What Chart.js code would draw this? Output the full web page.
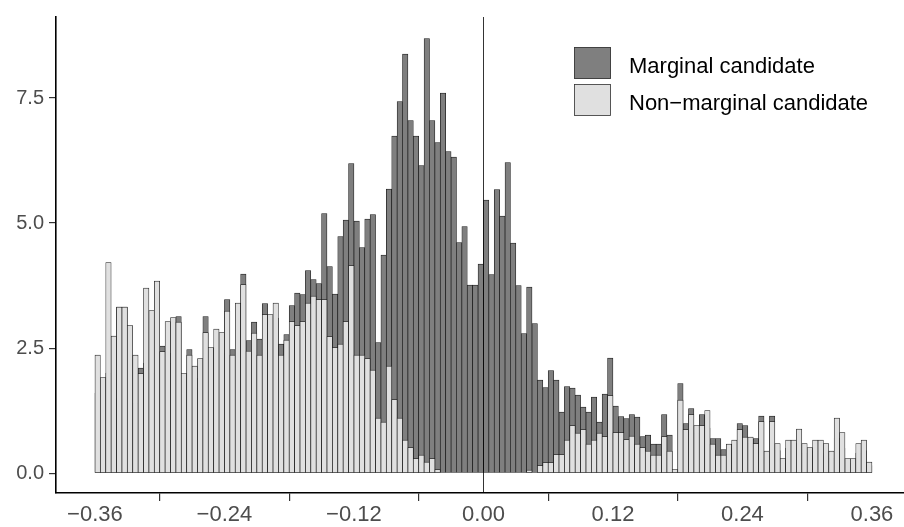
<!DOCTYPE html>
<html>
<head>
<meta charset="utf-8">
<script src="https://cdn.jsdelivr.net/npm/chart.js@4.4.1/dist/chart.umd.min.js"></script>
<style>
  html, body { margin: 0; padding: 0; background: #fff; }
  #wrap { width: 904px; height: 527px; }
</style>
</head>
<body>
<div id="wrap"><canvas id="c-hist" width="904" height="527"></canvas></div>
<script>
// histogram bins: 144 bins of width 0.005 from -0.36 to 0.36
var binStart = -0.36;
var binWidth = 0.005;

var marginal = [1.6,1.2,2.0,1.5,3.32,3.32,1.8,1.4,2.10,2.2,2.0,2.6,2.54,2.2,2.4,3.13,1.5,2.47,1.7,1.9,
  3.13,2.0,2.3,2.4,3.47,2.47,2.9,3.98,2.65,3.02,2.68,3.39,2.8,3.1,2.58,2.77,3.35,3.60,3.57,4.05,
  3.87,3.79,5.19,4.13,3.58,4.73,5.06,6.19,5.04,4.51,5.08,5.17,2.61,4.36,5.68,6.74,7.43,8.38,7.05,6.74,
  6.15,8.69,7.05,6.61,7.60,6.43,6.32,4.61,4.93,3.76,3.76,4.18,5.46,3.97,5.67,5.14,6.21,4.60,3.75,2.79,
  3.72,2.99,1.86,1.71,2.05,1.86,1.22,1.73,1.70,1.56,1.32,1.22,1.52,1.02,1.58,2.30,1.34,1.13,1.09,1.17,
  1.12,0.73,0.76,0.58,0.58,1.17,0.76,0.05,1.79,0.99,1.29,0.8,1.17,0.9,0.69,0.69,0.47,0.45,0.5,0.99,
  0.95,0.6,0.69,1.14,0.35,1.14,0.45,0.2,0.5,0.45,0.6,0.4,0.35,0.45,0.4,0.35,0.3,0.7,0.5,0.2,
  0.2,0.4,0.45,0.15];

var nonMarginal = [2.36,1.91,4.21,2.74,3.32,3.32,2.95,2.36,1.99,3.70,3.25,3.84,2.43,3.03,3.11,3.02,1.99,2.36,2.14,2.29,
  2.81,2.51,2.88,2.81,3.24,2.36,3.40,3.77,2.44,2.80,2.36,3.17,3.17,3.40,2.36,2.66,3.03,2.95,3.03,3.40,
  3.54,3.47,3.47,2.73,2.51,2.58,3.03,4.15,2.36,2.36,2.29,2.06,1.10,1.02,2.14,1.47,1.10,0.66,0.51,0.29,
  0.36,0.22,0.29,0.07,0,0,0,0,0,0,0,0,0,0,0,0,0,0,0,0,
  0.06,0,0.15,0.21,0.21,0.37,0.37,0.66,0.95,0.80,0.87,0.58,0.66,0.80,0.73,1.55,0.81,0.81,0.67,0.74,
  0.58,0.51,0.44,0.36,0.36,0.73,0.44,0.07,1.46,0.87,1.17,0.95,0.95,1.25,0.58,0.36,0.36,0.58,0.66,0.87,
  0.72,0.72,0.59,1.03,0.44,1.03,0.59,0.29,0.66,0.66,0.88,0.59,0.51,0.66,0.66,0.59,0.44,1.10,0.81,0.29,
  0.29,0.59,0.66,0.22];

var xTicks = [-0.36, -0.24, -0.12, 0, 0.12, 0.24, 0.36];
var yTicks = [0, 2.5, 5, 7.5];
var seriesNames = ['Marginal candidate', 'Non\u2212marginal candidate'];

var darkFill = '#7f7f7f';
var lightFill = '#e0e0e0';
var edge = '#1a1a1a';

function toPoints(arr) {
  return arr.map(function(v, i) { return {x: binStart + binWidth * (i + 0.5), y: v}; });
}

var vlinePlugin = {
  id: 'vline',
  afterDatasetsDraw: function(chart) {
    var ctx = chart.ctx, a = chart.chartArea;
    var px = Math.round(chart.scales.x.getPixelForValue(0)) + 0.5;
    ctx.save();
    ctx.strokeStyle = '#000';
    ctx.lineWidth = 0.8;
    ctx.beginPath();
    ctx.moveTo(px, a.top);
    ctx.lineTo(px, a.bottom);
    ctx.stroke();
    ctx.restore();
  }
};

var legendPlugin = {
  id: 'boxLegend',
  afterDraw: function(chart) {
    var ctx = chart.ctx;
    var fills = [darkFill, lightFill];
    ctx.save();
    for (var i = 0; i < 2; i++) {
      var top = 47 + i * 37;
      ctx.fillStyle = fills[i];
      ctx.fillRect(574, top, 37, 32);
      ctx.strokeStyle = '#333';
      ctx.lineWidth = 0.8;
      ctx.strokeRect(574.5, top + 0.5, 36, 31);
      ctx.fillStyle = '#000';
      ctx.font = '22px "Liberation Sans", Arial, sans-serif';
      ctx.textBaseline = 'alphabetic';
      ctx.fillText(seriesNames[i], 629, 73 + i * 37);
    }
    ctx.restore();
  }
};

new Chart(document.getElementById('c-hist'), {
  type: 'bar',
  data: {
    datasets: [
      {label: seriesNames[0], data: toPoints(marginal), order: 1, backgroundColor: darkFill,
       borderColor: edge, borderWidth: 0.7, borderSkipped: false},
      {label: seriesNames[1], data: toPoints(nonMarginal), order: 0, backgroundColor: lightFill,
       borderColor: edge, borderWidth: 0.7, borderSkipped: false}
    ]
  },
  options: {
    responsive: false,
    animation: false,
    devicePixelRatio: 1,
    grouped: false,
    barPercentage: 1,
    categoryPercentage: 1,
    layout: {padding: {top: 14, right: 0, left: 0, bottom: 0}},
    plugins: {legend: {display: false}, tooltip: {enabled: false}},
    scales: {
      x: {
        type: 'linear', min: -0.3961, max: 0.3897, offset: false,
        afterBuildTicks: function(s) { s.ticks = xTicks.map(function(v) { return {value: v}; }); },
        afterFit: function(s) { s.height = 34; },
        ticks: {
          autoSkip: false, maxRotation: 0, padding: 1, color: '#4d4d4d',
          font: {family: '"Liberation Sans", Arial, sans-serif', size: 22},
          callback: function(v) { return (v < 0 ? '\u2212' : '') + Math.abs(v).toFixed(2); }
        },
        grid: {drawOnChartArea: false, drawTicks: true, tickLength: 8, color: '#333', lineWidth: 1.2},
        border: {display: true, color: '#000', width: 1.6}
      },
      y: {
        min: -0.397, max: 9.12,
        afterBuildTicks: function(s) { s.ticks = yTicks.map(function(v) { return {value: v}; }); },
        afterFit: function(s) { s.width = 56; },
        ticks: {
          padding: 5, color: '#4d4d4d',
          font: {family: '"Liberation Sans", Arial, sans-serif', size: 20},
          callback: function(v) { return v.toFixed(1); }
        },
        grid: {drawOnChartArea: false, drawTicks: true, tickLength: 7, color: '#333', lineWidth: 1.2},
        border: {display: true, color: '#000', width: 1.6}
      }
    }
  },
  plugins: [vlinePlugin, legendPlugin]
});
</script>
</body>
</html>
